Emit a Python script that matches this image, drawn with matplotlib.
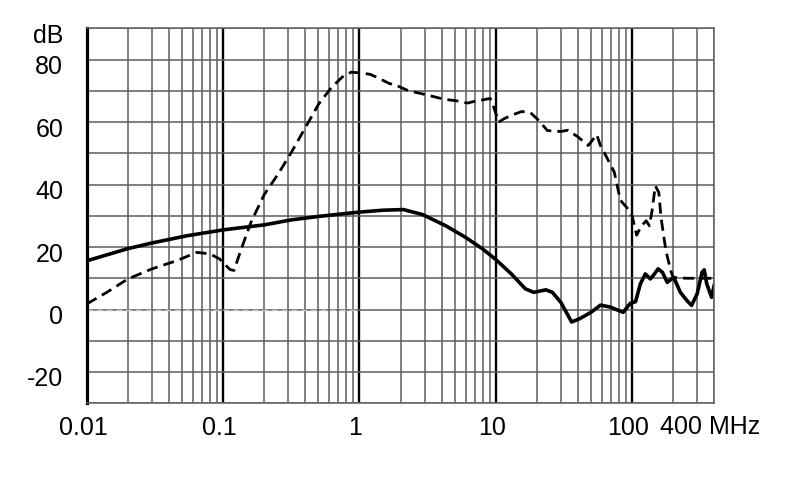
import numpy as np
import matplotlib.pyplot as plt
from matplotlib.ticker import LogLocator, MultipleLocator, NullFormatter
from matplotlib.transforms import ScaledTranslation

plt.rcParams['font.family'] = ['Liberation Sans', 'DejaVu Sans']

# solid curve (MHz, dB)
solid_f = [0.01, 0.02, 0.03, 0.054, 0.1, 0.2, 0.316, 0.5, 1.0, 1.5, 2.1, 2.9, 4.3, 6.0,
           8.0, 10, 13, 16.5, 19, 23.3, 26, 30, 36, 41, 50, 58.6, 69, 86, 97, 106,
           115, 125, 136, 143, 155, 167, 181, 202, 226, 252, 273, 300, 326, 338,
           353, 383, 400]
solid_db = [15.6, 19.5, 21.3, 23.6, 25.5, 27.1, 28.7, 29.8, 31.2, 31.8, 32.0, 30.4, 26.8,
            23.1, 19.4, 16.0, 11.4, 6.6, 5.5, 6.3, 5.5, 2.3, -4.0, -3.0, -0.9, 1.4,
            0.8, -0.9, 2.0, 2.5, 8.2, 11.4, 9.8, 10.9, 13.0, 11.9, 8.7, 10.3, 5.5,
            2.9, 1.3, 5.0, 11.9, 12.7, 8.2, 3.9, 7.7]

# dashed curve (MHz, dB)
dashed_f = [0.01, 0.014, 0.02, 0.03, 0.046, 0.064, 0.08, 0.094, 0.112, 0.12, 0.136,
            0.16, 0.2, 0.253, 0.316, 0.4, 0.5, 0.62, 0.75, 0.87, 1.0, 1.2, 1.36,
            1.65, 1.9, 2.3, 2.8, 3.33, 4.2, 5.2, 6.2, 6.9, 8.2, 9.1, 9.8, 10.5,
            11.5, 13.2, 15.5, 18.0, 20.7, 23.9, 30, 33.7, 40, 47.7, 55, 58.6, 65,
            74, 82, 92, 100, 108, 117, 127, 134, 140, 148, 157, 163, 177, 192, 200,
            250, 400]
dashed_db = [1.8, 5.5, 9.8, 13.0, 15.7, 18.3, 17.8, 16.2, 12.8, 12.5, 19.5, 28.0, 36.8,
             43.4, 50.3, 58.2, 65.7, 71.0, 74.5, 76.0, 75.8, 75.3, 74.2, 72.4, 71.6,
             70.0, 69.2, 68.4, 67.3, 66.8, 66.1, 66.6, 67.2, 67.6, 64.0, 60.0, 61.1,
             62.3, 63.4, 63.0, 60.5, 57.3, 57.0, 57.4, 55.3, 52.5, 56.0, 52.5, 48.8,
             44.0, 35.0, 32.5, 30.0, 23.8, 26.8, 28.4, 26.8, 31.6, 39.6, 37.5, 29.5,
             18.8, 12.5, 10.3, 10.0, 10.0]

# light reference line at 0 dB
zero_f = [0.01, 1.0]
zero_db = [0, 0]

x_ticks = [0.01, 0.1, 1, 10, 100]
x_labels = ['0.01', '0.1', '1', '10', '100']
y_ticks = [-20, 0, 20, 40, 60, 80, 90]
y_labels = ['-20', '0', '20', '40', '60', '80', 'dB']

fig = plt.figure(figsize=(7.9, 4.99), dpi=100)
ax = fig.add_axes([0.110, 0.192, 0.794, 0.751])
ax.set_xscale('log')
ax.set_xlim(0.01, 400)
ax.set_ylim(-30, 90)

ax.set_xticks(x_ticks)
ax.set_xticklabels(x_labels)
ax.xaxis.set_minor_locator(LogLocator(base=10, subs=np.arange(2, 10)))
ax.xaxis.set_minor_formatter(NullFormatter())
ax.set_yticks(y_ticks)
ax.set_yticklabels(y_labels)
ax.yaxis.set_minor_locator(MultipleLocator(10))

ax.tick_params(which='both', length=0, labelsize=18)
ax.tick_params(axis='x', pad=9)
ax.tick_params(axis='y', pad=17)

ax.grid(True, which='minor', color='#5e5e5e', linewidth=1.1)
ax.grid(True, axis='y', which='major', color='#5e5e5e', linewidth=1.1)
ax.grid(True, axis='x', which='major', color='black', linewidth=1.7)
ax.set_axisbelow(True)

for s in ['top', 'right', 'bottom']:
    ax.spines[s].set_color('#5e5e5e')
    ax.spines[s].set_linewidth(1.1)
ax.spines['left'].set_linewidth(2.3)
ax.spines['left'].set_color('black')

ax.plot(zero_f, zero_db, color='#c8c8c8', linewidth=1.0, dashes=(4, 3))
ax.plot(dashed_f, dashed_db, color='black', linewidth=2.0, dashes=(4, 2.2))
ax.plot(solid_f, solid_db, color='black', linewidth=2.6, solid_joinstyle='round')

# nudge y labels slightly down like the original
off = ScaledTranslation(0, -5 / 100, fig.dpi_scale_trans)
for lab in ax.get_yticklabels():
    lab.set_transform(lab.get_transform() + off)
offx = ScaledTranslation(-4 / 100, 0, fig.dpi_scale_trans)
for lab in ax.get_xticklabels():
    lab.set_transform(lab.get_transform() + offx)

ax.annotate('400 MHz', xy=(400, 0), xycoords=('data', 'axes fraction'),
            xytext=(-54, -12), textcoords='offset pixels',
            ha='left', va='top', fontsize=18)

fig.savefig('out.png', dpi=100)
